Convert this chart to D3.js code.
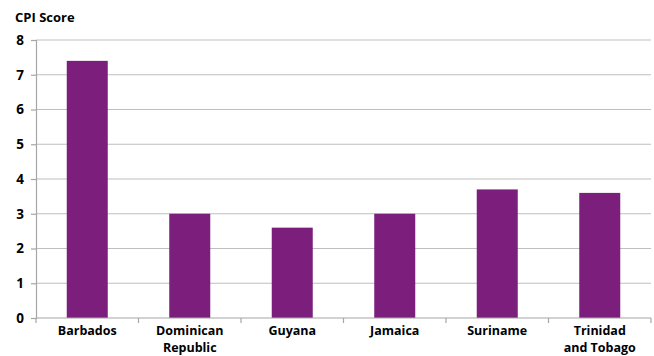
<!DOCTYPE html>
<html>
<head>
<meta charset="utf-8">
<script src="https://cdn.jsdelivr.net/npm/d3@7"></script>
<style>
  html, body { margin: 0; padding: 0; background: #fff; }
  svg { display: block; font-family: "Open Sans", "Lato", sans-serif; font-weight: bold; }
</style>
</head>
<body>
<svg id="chart" width="654" height="356"></svg>
<script>
// CPI scores by country
const countries = ["Barbados", "Dominican Republic", "Guyana", "Jamaica", "Suriname", "Trinidad and Tobago"];
const countryLines = [["Barbados"], ["Dominican", "Republic"], ["Guyana"], ["Jamaica"], ["Suriname"], ["Trinidad", "and Tobago"]];
const scores = [7.4, 3.0, 2.6, 3.0, 3.7, 3.6];
const yTicks = [0, 1, 2, 3, 4, 5, 6, 7, 8];

const svg = d3.select("#chart");
const margin = { left: 36, right: 3, top: 40, bottom: 38 };
const W = 654, H = 356;
const FONT = "'Open Sans', Lato, sans-serif";

const x = d3.scaleBand().domain(countries).range([margin.left, W - margin.right]).padding(0);
const y = d3.scaleLinear().domain([0, 8]).range([H - margin.bottom, margin.top]);

// horizontal gridlines
svg.append("g")
  .selectAll("line")
  .data(yTicks.filter(d => d > 0))
  .join("line")
  .attr("x1", margin.left).attr("x2", W - margin.right)
  .attr("y1", d => y(d)).attr("y2", d => y(d))
  .attr("stroke", "#bfbfbf").attr("stroke-width", 1.2);

// bars
const barW = x.bandwidth() * 0.4;
svg.append("g")
  .selectAll("rect")
  .data(scores)
  .join("rect")
  .attr("x", (d, i) => x(countries[i]) + (x.bandwidth() - barW) / 2)
  .attr("y", d => y(d))
  .attr("width", barW)
  .attr("height", d => y(0) - y(d))
  .attr("fill", "#7b1e7c");

// y axis
const yAxis = svg.append("g")
  .attr("transform", `translate(${margin.left},0)`)
  .call(d3.axisLeft(y).tickValues(yTicks).tickSize(5).tickPadding(7).tickFormat(d3.format("d")));
yAxis.select(".domain").attr("stroke", "#a6a6a6").attr("stroke-width", 1.2);
yAxis.selectAll(".tick line").attr("stroke", "#a6a6a6").attr("stroke-width", 1.2);
yAxis.selectAll(".tick text").attr("font-size", 13.5).attr("font-weight", "bold").attr("fill", "#000")
  .attr("font-family", FONT);

// x axis with category boundaries as tick marks
const xAxis = svg.append("g")
  .attr("transform", `translate(0,${y(0)})`);
xAxis.append("line")
  .attr("x1", margin.left).attr("x2", W - margin.right)
  .attr("stroke", "#a6a6a6").attr("stroke-width", 1.2);
const bounds = countries.map(c => x(c)).concat([x(countries[countries.length - 1]) + x.bandwidth()]);
xAxis.selectAll("line.tk")
  .data(bounds)
  .join("line").attr("class", "tk")
  .attr("x1", d => d).attr("x2", d => d)
  .attr("y1", 0).attr("y2", 5)
  .attr("stroke", "#a6a6a6").attr("stroke-width", 1.2);

// category labels, one text element per line
const labelRows = countries.flatMap((c, i) => countryLines[i].map((t, j) => ({ c, t, j })));
svg.append("g")
  .selectAll("text")
  .data(labelRows)
  .join("text")
  .attr("x", d => x(d.c) + x.bandwidth() / 2)
  .attr("y", d => y(0) + 17 + d.j * 17)
  .attr("text-anchor", "middle")
  .attr("font-size", 12.5)
  .attr("fill", "#000")
  .text(d => d.t);

// axis title
svg.append("text")
  .attr("x", 15).attr("y", 22)
  .attr("font-size", 13)
  .attr("fill", "#000")
  .text("CPI Score");
</script>
</body>
</html>
